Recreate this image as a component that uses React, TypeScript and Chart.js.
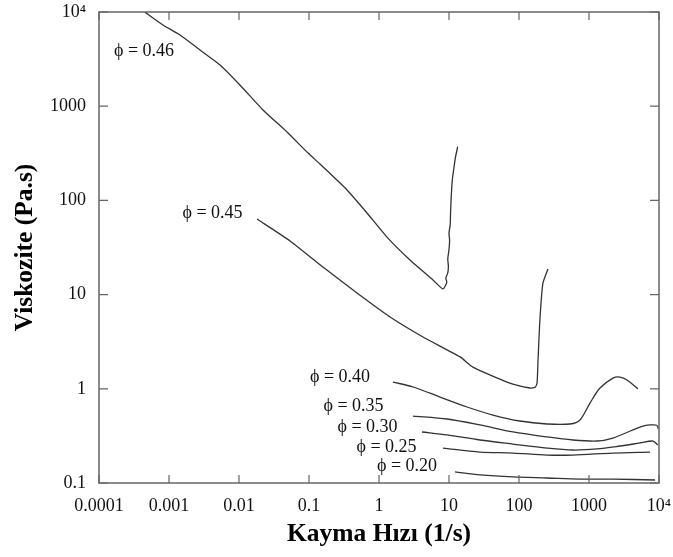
import React, { useEffect, useRef } from "react";
import { Chart, registerables } from "chart.js";

Chart.register(...registerables);

const xTickValues = [1e-4, 1e-3, 1e-2, 0.1, 1, 10, 100, 1000, 1e4];
const xTickLabels = ["0.0001", "0.001", "0.01", "0.1", "1", "10", "100", "1000", "10⁴"];
const yTickValues = [0.1, 1, 10, 100, 1000, 1e4];
const yTickLabels = ["0.1", "1", "10", "100", "1000", "10⁴"];

const phi046X = [0.00045, 0.00082, 0.00144, 0.00277, 0.00536, 0.0103, 0.022, 0.0485, 0.0969, 0.1436, 0.349, 0.674, 1.3, 2.77, 5.91, 8.2, 9.3, 9.0, 9.6, 9.8, 9.6, 10.0, 10.2, 10.0, 10.4, 10.5, 10.7, 10.9, 11.2, 11.8, 12.3, 13.3];
const phi046Y = [10000, 7280, 5700, 3950, 2740, 1680, 912, 532, 318, 243, 129, 73.5, 40.8, 23.3, 14.3, 11.5, 13.5, 15, 17, 20, 24, 30, 38, 45, 55, 70, 100, 130, 170, 226, 280, 372];

const phi045X = [0.0181, 0.0536, 0.158, 0.485, 1.44, 4.25, 14.4, 22.0, 67.4, 143.6, 170, 181, 187, 200, 220, 259];
const phi045Y = [63.4, 37.1, 19.6, 10.4, 5.78, 3.55, 2.18, 1.7, 1.18, 1.02, 1.04, 1.15, 2.02, 5.78, 13.3, 18.7];

const phi040X = [1.58, 3.06, 7.44, 18.1, 42.5, 103, 251, 535, 743, 1033, 1436, 2203, 2773, 3490, 5010];
const phi040Y = [1.18, 1.045, 0.818, 0.641, 0.527, 0.455, 0.423, 0.423, 0.467, 0.706, 1.02, 1.3, 1.33, 1.24, 0.995];

const phi035X = [3.06, 9.36, 27.7, 82, 251, 590, 1300, 2200, 4250, 5600, 7400, 9300, 9800];
const phi035Y = [0.514, 0.478, 0.413, 0.348, 0.308, 0.286, 0.279, 0.3, 0.366, 0.396, 0.413, 0.41, 0.375];

const phi030X = [4.11, 9.36, 27.7, 82, 251, 590, 1300, 2773, 5350, 8200, 9600];
const phi030Y = [0.348, 0.324, 0.286, 0.259, 0.235, 0.224, 0.23, 0.247, 0.266, 0.279, 0.253];

const phi025X = [8.2, 27.7, 82, 251, 590, 2200, 7430];
const phi025Y = [0.235, 0.213, 0.208, 0.198, 0.198, 0.208, 0.213];

const phi020X = [12.2, 27.7, 82, 251, 743, 2200, 8770];
const phi020Y = [0.131, 0.122, 0.116, 0.113, 0.11, 0.11, 0.1076];

const curveNames = ["ϕ = 0.46", "ϕ = 0.45", "ϕ = 0.40", "ϕ = 0.35", "ϕ = 0.30", "ϕ = 0.25", "ϕ = 0.20"];
const labelX = [0.00044, 0.00418, 0.277, 0.433, 0.686, 1.28, 2.51];
const labelY = [3855, 73.5, 1.318, 0.656, 0.393, 0.241, 0.151];

const serif = '"Liberation Serif", "Times New Roman", "DejaVu Serif", serif';

const toPoints = (xs: number[], ys: number[]) => xs.map((x, i) => ({ x, y: ys[i] }));

const framePlugin = {
  id: "frameTicks",
  afterDatasetsDraw(chart: any) {
    const { ctx, chartArea: a, scales } = chart;
    const xs = scales.x;
    const ys = scales.y;
    ctx.save();
    ctx.strokeStyle = "#666";
    ctx.lineWidth = 1.5;
    ctx.strokeRect(a.left, a.top, a.right - a.left, a.bottom - a.top);
    ctx.lineWidth = 1.2;
    ctx.beginPath();
    xTickValues.forEach((v) => {
      const px = xs.getPixelForValue(v);
      ctx.moveTo(px, a.bottom);
      ctx.lineTo(px, a.bottom - 8);
      ctx.moveTo(px, a.top);
      ctx.lineTo(px, a.top + 8);
    });
    yTickValues.forEach((v) => {
      const py = ys.getPixelForValue(v);
      ctx.moveTo(a.left, py);
      ctx.lineTo(a.left + 9, py);
      ctx.moveTo(a.right, py);
      ctx.lineTo(a.right - 9, py);
    });
    ctx.stroke();
    ctx.font = `18px ${serif}`;
    ctx.fillStyle = "#111";
    ctx.textAlign = "center";
    ctx.textBaseline = "middle";
    curveNames.forEach((t, i) => {
      ctx.fillText(t, xs.getPixelForValue(labelX[i]), ys.getPixelForValue(labelY[i]));
    });
    ctx.restore();
  },
};

const findIdx = (arr: number[], v: number) =>
  arr.findIndex((t) => Math.abs(Math.log10(t) - Math.log10(v)) < 1e-6);

export default function App() {
  const ref = useRef<HTMLCanvasElement | null>(null);

  useEffect(() => {
    if (!ref.current) return;
    const lineStyle = {
      showLine: true,
      pointRadius: 0,
      borderColor: "#333",
      borderWidth: 1.3,
      backgroundColor: "#333",
      fill: false,
    };
    const chart = new Chart(ref.current, {
      type: "scatter",
      data: {
        datasets: [
          { label: curveNames[0], data: toPoints(phi046X, phi046Y), ...lineStyle, tension: 0.2 },
          { label: curveNames[1], data: toPoints(phi045X, phi045Y), ...lineStyle, tension: 0.2 },
          { label: curveNames[2], data: toPoints(phi040X, phi040Y), ...lineStyle, tension: 0.3 },
          { label: curveNames[3], data: toPoints(phi035X, phi035Y), ...lineStyle, tension: 0.3 },
          { label: curveNames[4], data: toPoints(phi030X, phi030Y), ...lineStyle, tension: 0.3 },
          { label: curveNames[5], data: toPoints(phi025X, phi025Y), ...lineStyle, tension: 0.3 },
          { label: curveNames[6], data: toPoints(phi020X, phi020Y), ...lineStyle, tension: 0.3 },
        ],
      },
      options: {
        animation: false,
        responsive: false,
        devicePixelRatio: 1,
        layout: { padding: { top: 12, right: 14, bottom: 0, left: 0 } },
        plugins: { legend: { display: false }, tooltip: { enabled: false } },
        scales: {
          x: {
            type: "logarithmic",
            min: 1e-4,
            max: 1e4,
            position: "bottom",
            grid: { display: false, drawTicks: false },
            border: { display: false },
            afterBuildTicks: (s: any) => {
              s.ticks = xTickValues.map((v) => ({ value: v }));
            },
            afterFit: (s: any) => {
              s.height = 74;
              s.paddingLeft = 0;
              s.paddingRight = 0;
            },
            ticks: {
              autoSkip: false,
              maxRotation: 0,
              minRotation: 0,
              padding: 12,
              color: "#111",
              font: { family: serif, size: 18 },
              callback: (v: any) => {
                const i = findIdx(xTickValues, Number(v));
                return i >= 0 ? xTickLabels[i] : "";
              },
            },
            title: {
              display: true,
              text: "Kayma Hızı (1/s)",
              color: "#000",
              font: { family: serif, size: 25.5, weight: "bold" },
              padding: { top: 0, bottom: 7 },
            },
          },
          y: {
            type: "logarithmic",
            min: 0.1,
            max: 1e4,
            position: "left",
            grid: { display: false, drawTicks: false },
            border: { display: false },
            afterBuildTicks: (s: any) => {
              s.ticks = yTickValues.map((v) => ({ value: v }));
            },
            afterFit: (s: any) => {
              s.width = 99;
              s.paddingTop = 0;
              s.paddingBottom = 0;
            },
            ticks: {
              autoSkip: false,
              padding: 13,
              color: "#111",
              font: { family: serif, size: 18 },
              callback: (v: any) => {
                const i = findIdx(yTickValues, Number(v));
                return i >= 0 ? yTickLabels[i] : "";
              },
            },
            title: {
              display: true,
              text: "Viskozite (Pa.s)",
              color: "#000",
              font: { family: serif, size: 25.5, weight: "bold" },
              padding: { top: 10, bottom: 0 },
            },
          },
        },
      },
      plugins: [framePlugin],
    } as any);
    return () => chart.destroy();
  }, []);

  return (
    <div style={{ position: "absolute", left: 0, top: 0, width: 673, height: 557, background: "#fff" }}>
      <canvas ref={ref} width={673} height={557} style={{ display: "block" }} />
    </div>
  );
}
